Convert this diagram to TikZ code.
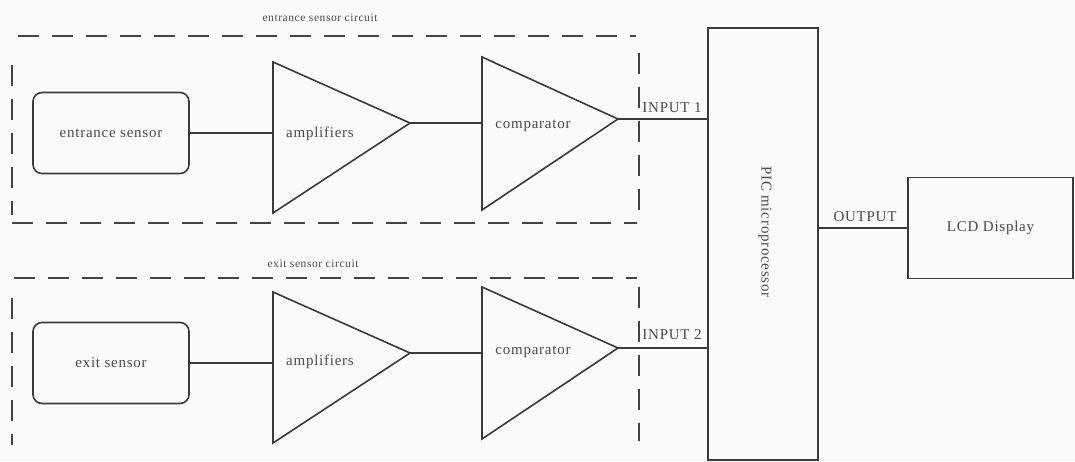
\documentclass[tikz,border=0pt]{standalone}
\usepackage{fontspec}
\setmainfont{Liberation Serif}[LetterSpace=5]
\definecolor{bg}{HTML}{FBFBFB}
\definecolor{lc}{HTML}{3A3A3A}
\definecolor{dc}{HTML}{444444}
\definecolor{tc}{HTML}{4A4A4A}
\begin{document}
\begin{tikzpicture}[x=1pt,y=-1pt,
  wire/.style={draw=lc, line width=1.6pt},
  dashline/.style={draw=dc, line width=1.1pt, dash pattern=on 21pt off 13pt},
  lbl/.style={text=tc, font=\fontsize{15}{17}\selectfont, inner sep=0pt},
  small/.style={text=tc, font=\fontsize{11.5}{13}\selectfont, inner sep=0pt},
  sensorbox/.style={draw=lc, line width=1.6pt, rounded corners=9pt, text=tc,
    font=\fontsize{15}{17}\selectfont, minimum width=156pt, inner sep=0pt},
  blockbox/.style={draw=lc, line width=1.6pt, text=tc,
    font=\fontsize{15}{17}\selectfont, inner sep=0pt}]
\useasboundingbox[fill=bg] (0,0) rectangle (1075,461);

% dashed enclosures
\draw[dashline] (18,36) -- (636,36);
\draw[dashline] (12,223) -- (637,223);
\draw[dashline] (12,65) -- (12,215);
\draw[dashline] (639,53) -- (639,212);
\draw[dashline] (14,278) -- (637,278);
\draw[dashline] (12,298) -- (12,445);
\draw[dashline] (639,287) -- (639,441);
\node[small] (entl) at (320,18) {entrance sensor circuit};
\node[small] (exl) at (313,264) {exit sensor circuit};

% sensors
\node[sensorbox, minimum height=81pt] (es) at (111,133) {entrance sensor};
\node[sensorbox, minimum height=81pt] (xs) at (111,363) {exit sensor};

% entrance amplifier
\coordinate (a1t) at (273,62);
\coordinate (a1b) at (273,213);
\coordinate (a1o) at (410,123);
\coordinate (a1i) at (273,133);
\draw[wire, line join=miter] (a1t) -- (a1o) -- (a1b) -- cycle;
\node[lbl] (a1l) at (320,134) {amplifiers};
% entrance comparator
\coordinate (c1t) at (482,57);
\coordinate (c1b) at (482,210);
\coordinate (c1o) at (618,119);
\coordinate (c1i) at (482,123);
\draw[wire, line join=miter] (c1t) -- (c1o) -- (c1b) -- cycle;
\node[lbl] (c1l) at (533,126) {comparator};

% exit amplifier
\coordinate (a2t) at (273,292);
\coordinate (a2b) at (273,443);
\coordinate (a2o) at (410,353);
\coordinate (a2i) at (273,363);
\draw[wire, line join=miter] (a2t) -- (a2o) -- (a2b) -- cycle;
\node[lbl] (a2l) at (320,362) {amplifiers};
% exit comparator
\coordinate (c2t) at (482,287);
\coordinate (c2b) at (482,439);
\coordinate (c2o) at (618,348);
\coordinate (c2i) at (482,353);
\draw[wire, line join=miter] (c2t) -- (c2o) -- (c2b) -- cycle;
\node[lbl] (c2l) at (533,352) {comparator};

% PIC and LCD
\node[blockbox, minimum width=110pt, minimum height=432pt] (pic) at (763,244) {};
\node[lbl, rotate=-90] (picl) at (765,232) {PIC microprocessor};
\node[blockbox, minimum width=165pt, minimum height=101pt] (lcd) at (990.5,228) {LCD Display};

% connectors
\draw[wire] (es.east |- a1i) -- (a1i);
\draw[wire] (a1o) -- (c1i);
\draw[wire] (c1o) -- (c1o -| pic.west);
\node[lbl] (in1) at (672,108) {INPUT 1};
\draw[wire] (xs.east |- a2i) -- (a2i);
\draw[wire] (a2o) -- (c2i);
\draw[wire] (c2o) -- (c2o -| pic.west);
\node[lbl] (in2) at (672,335) {INPUT 2};
\draw[wire] (pic.east |- lcd.west) -- (lcd.west);
\node[lbl] (outl) at (865,217) {OUTPUT};
\end{tikzpicture}
\end{document}
